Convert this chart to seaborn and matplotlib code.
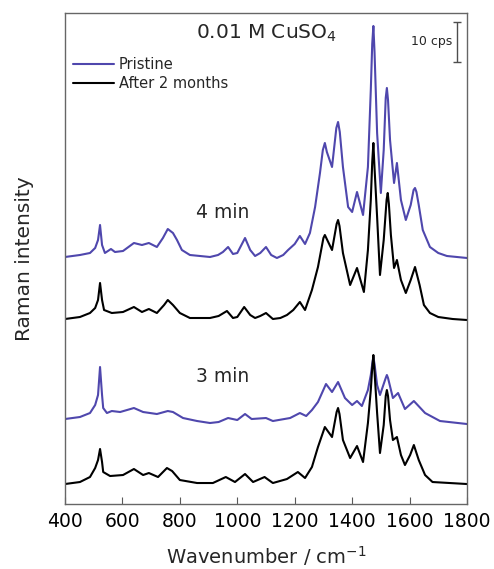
import numpy as np
import pandas as pd
import seaborn as sns
import matplotlib
matplotlib.use("Agg")
import matplotlib.pyplot as plt
from matplotlib.lines import Line2D

sns.set_style("ticks")
plt.rcParams['font.family'] = ['DejaVu Sans']

# spectra (wavenumber / cm-1, intensity / cps)
wn_pristine_4 = [400, 452, 487, 505, 515, 522, 529, 539, 560, 574, 602, 640, 668, 692, 720, 741,
                 758, 776, 790, 807, 835, 870, 905, 933, 950, 968, 985, 1000, 1027, 1045, 1062,
                 1080, 1100, 1118, 1138, 1160, 1177, 1200, 1218, 1236, 1253, 1271, 1288, 1298,
                 1305, 1312, 1330, 1345, 1351, 1357, 1368, 1386, 1400, 1417, 1438, 1455, 1465,
                 1470, 1474, 1478, 1487, 1500, 1510, 1517, 1521, 1525, 1532, 1546, 1556, 1570,
                 1587, 1604, 1614, 1619, 1624, 1632, 1646, 1671, 1700, 1730, 1800]
int_pristine_4 = [6.75, 7.25, 7.75, 9.0, 11.0, 14.75, 9.75, 7.75, 8.75, 8.0, 8.25, 10.25, 9.75, 10.25,
                  9.25, 11.5, 13.75, 12.75, 11.0, 8.5, 7.25, 7.0, 6.75, 7.25, 8.0, 9.25, 7.5, 7.75,
                  11.5, 8.5, 7.0, 7.75, 9.25, 7.25, 6.5, 7.25, 8.5, 10.0, 12.0, 10.0, 12.75, 19.25,
                  27.75, 33.5, 35.25, 33.0, 29.25, 39.0, 40.5, 38.0, 29.25, 19.25, 18.0, 23.0, 17.25,
                  29.25, 48.5, 60.0, 64.5, 58.0, 37.75, 22.75, 33.5, 46.5, 49.0, 46.0, 36.0, 25.25,
                  30.25, 21.0, 16.0, 19.75, 23.5, 24.0, 23.0, 19.75, 13.5, 9.25, 7.75, 7.0, 6.5]

wn_aged_4 = [400, 452, 487, 505, 515, 522, 529, 536, 563, 602, 640, 668, 692, 720, 745, 758, 776,
             800, 835, 870, 905, 935, 964, 985, 1000, 1024, 1045, 1062, 1080, 1100, 1124, 1150,
             1173, 1195, 1218, 1236, 1260, 1281, 1300, 1305, 1310, 1330, 1346, 1351, 1356, 1368,
             1393, 1417, 1441, 1455, 1465, 1470, 1474, 1478, 1487, 1497, 1510, 1520, 1524, 1528,
             1535, 1546, 1556, 1570, 1587, 1604, 1619, 1635, 1650, 1671, 1700, 1750, 1800]
int_aged_4 = [6.25, 6.75, 7.75, 9.0, 11.0, 15.25, 11.0, 8.5, 7.75, 8.0, 9.25, 8.0, 8.75, 7.75, 9.75,
              11.0, 9.75, 7.75, 6.5, 6.5, 6.5, 7.0, 8.25, 6.5, 6.75, 9.25, 7.25, 6.5, 7.0, 7.75,
              6.25, 6.5, 7.25, 8.5, 10.5, 8.5, 13.5, 19.25, 26.5, 27.25, 26.5, 23.5, 30.0, 31.0,
              29.5, 22.75, 14.75, 19.0, 13.0, 23.5, 36.0, 45.5, 50.25, 44.0, 31.75, 17.25, 26.0,
              36.0, 37.75, 35.0, 27.25, 19.0, 21.0, 16.0, 12.75, 16.0, 19.25, 14.75, 9.75, 7.75,
              6.75, 6.25, 6.0]

wn_pristine_3 = [400, 452, 487, 505, 515, 522, 529, 533, 546, 563, 592, 640, 672, 720, 758, 776,
                 811, 860, 905, 935, 968, 1000, 1027, 1050, 1100, 1124, 1184, 1218, 1240, 1260,
                 1281, 1309, 1330, 1351, 1375, 1400, 1417, 1434, 1455, 1465, 1470, 1474, 1478,
                 1487, 1497, 1517, 1521, 1525, 1542, 1560, 1584, 1615, 1654, 1706, 1800]
int_pristine_3 = [6.25, 6.75, 7.75, 9.75, 12.25, 19.25, 12.25, 9.0, 7.75, 8.25, 8.0, 9.0, 8.0, 7.5,
                  8.25, 8.0, 6.5, 5.75, 5.25, 5.5, 6.5, 6.0, 7.5, 6.25, 6.5, 5.75, 6.5, 7.75, 7.0,
                  8.5, 10.5, 15.0, 13.0, 15.5, 11.5, 9.75, 10.75, 9.5, 13.5, 17.25, 20.0, 21.75,
                  20.0, 14.75, 12.25, 16.5, 17.25, 16.5, 11.5, 12.75, 8.75, 10.75, 7.75, 5.75, 5.0]

wn_aged_3 = [400, 452, 487, 505, 515, 522, 529, 533, 557, 602, 640, 672, 692, 724, 755, 773, 800,
             860, 915, 960, 992, 1027, 1055, 1095, 1124, 1173, 1211, 1236, 1260, 1281, 1305, 1330,
             1346, 1351, 1356, 1368, 1393, 1417, 1438, 1455, 1465, 1470, 1474, 1478, 1487, 1497,
             1510, 1517, 1521, 1525, 1532, 1542, 1556, 1570, 1584, 1602, 1615, 1632, 1654, 1680,
             1800]
int_aged_3 = [5.0, 5.5, 6.75, 9.0, 11.0, 13.75, 10.5, 8.0, 7.0, 7.25, 8.75, 7.25, 7.75, 6.75, 9.0,
              8.25, 6.0, 5.25, 5.25, 6.75, 5.5, 7.5, 5.5, 6.75, 5.25, 6.25, 8.0, 6.5, 9.25, 14.25,
              19.25, 16.75, 23.0, 24.0, 22.5, 16.0, 11.5, 14.5, 10.5, 20.25, 28.5, 34.0, 37.25,
              33.0, 22.75, 12.75, 19.75, 27.0, 28.5, 27.0, 21.0, 16.0, 16.75, 12.25, 9.75, 12.25,
              14.75, 11.0, 7.25, 5.5, 5.0]

# vertical stacking offsets (cps)
offsets = {"p4": 55, "a4": 40, "p3": 15, "a3": 0}

blue = "#4f47ad"

fig, ax = plt.subplots(figsize=(4.94, 5.69), dpi=100)
fig.subplots_adjust(left=0.1316, right=0.9453, bottom=0.1142, top=0.9772)

traces = [
    (wn_pristine_4, int_pristine_4, offsets["p4"], blue),
    (wn_aged_4, int_aged_4, offsets["a4"], "black"),
    (wn_pristine_3, int_pristine_3, offsets["p3"], blue),
    (wn_aged_3, int_aged_3, offsets["a3"], "black"),
]
for wn, inten, off, col in traces:
    df = pd.DataFrame({"wn": wn, "I": np.array(inten) + off})
    sns.lineplot(data=df, x="wn", y="I", ax=ax, color=col, lw=1.5,
                 sort=False, estimator=None)

ax.set_xlim(400, 1800)
ax.set_ylim(0, 122.75)
ax.set_xticks(range(400, 1801, 200))
ax.set_yticks([])
ax.tick_params(axis="x", direction="in", length=5, labelsize=13.5, colors="0.35",
               labelcolor="black", pad=6)
for s in ax.spines.values():
    s.set_color("0.4")
    s.set_linewidth(1.0)

ax.set_xlabel("Wavenumber / cm$^{-1}$", fontsize=14, labelpad=9)
ax.set_ylabel("Raman intensity", fontsize=14.5, labelpad=22)

ax.text(1100, 117.75, "0.01 M CuSO$_4$", ha="center", va="center", fontsize=14.5)
ax.text(950, 72.75, "4 min", ha="center", va="center", fontsize=13.5)
ax.text(950, 32, "3 min", ha="center", va="center", fontsize=13.5)

# scale bar
ax.errorbar([1765], [115.5], yerr=[5], color="0.3", capsize=3, lw=1.0, capthick=1.0)
ax.text(1748, 115.5, "10 cps", ha="right", va="center", fontsize=9)

handles = [Line2D([], [], color=blue, lw=1.5), Line2D([], [], color="black", lw=1.5)]
ax.legend(handles, ["Pristine", "After 2 months"], loc="upper left",
          bbox_to_anchor=(-0.012, 0.937), frameon=False, fontsize=10.5,
          handlelength=2.8, handletextpad=0.3, labelspacing=0.25)

plt.savefig("out.png", dpi=100)
